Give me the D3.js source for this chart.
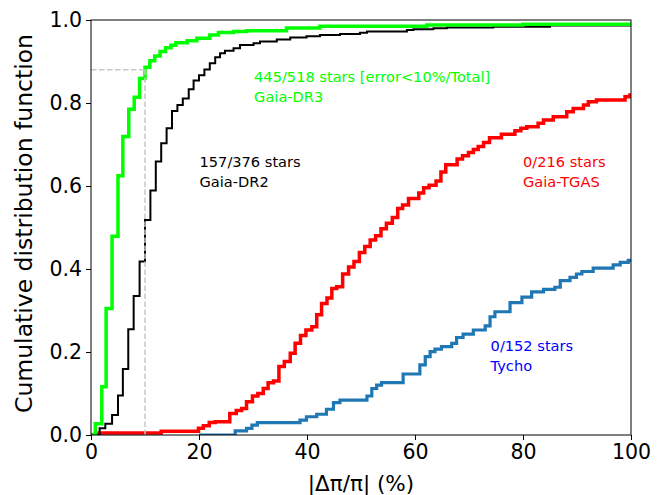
<!DOCTYPE html>
<html>
<head>
<meta charset="utf-8">
<script src="https://cdn.jsdelivr.net/npm/d3@7"></script>
<style>
  html, body { margin: 0; padding: 0; background: #fff; }
  svg { display: block; font-family: "DejaVu Sans", sans-serif; }
</style>
</head>
<body>
<svg id="chart" width="665" height="495"></svg>
<script>
// ---- data ----
const xTicks = [0, 20, 40, 60, 80, 100];
const yTicks = [0.0, 0.2, 0.4, 0.6, 0.8, 1.0];

// Gaia-DR3 cumulative distribution (step rises at x)
const dr3Start = 0;
const dr3X = [0.8, 2.0, 2.8, 3.9, 5.0, 5.9, 7.0, 8.0, 9.0, 10.0, 10.9, 11.8, 12.8, 13.8, 14.8, 15.7, 17.8, 19.6, 22.0, 23.6, 26.4, 28.8, 36.2, 42.4, 62.2, 80.0];
const dr3Y = [0.027, 0.116, 0.305, 0.479, 0.625, 0.719, 0.785, 0.814, 0.859, 0.886, 0.902, 0.913, 0.924, 0.933, 0.939, 0.945, 0.950, 0.956, 0.964, 0.970, 0.972, 0.974, 0.981, 0.985, 0.988, 0.990];

// Gaia-DR2
const dr2Start = 0;
const dr2X = [1.6, 2.65, 3.9, 5.0, 5.9, 6.9, 7.9, 9.0, 10.0, 11.0, 12.0, 13.0, 14.0, 15.0, 16.0, 17.0, 18.1, 19.0, 20.0, 21.0, 22.0, 23.0, 23.9, 24.8, 26.4, 27.6, 30.1, 31.3, 34.4, 36.9, 39.9, 42.4, 46.1, 49.8, 51.1, 58.5, 59.7, 63.4, 65.9, 74.5, 85.0];
const dr2Y = [0.016, 0.027, 0.048, 0.095, 0.159, 0.255, 0.335, 0.418, 0.518, 0.589, 0.659, 0.703, 0.739, 0.781, 0.795, 0.811, 0.833, 0.854, 0.867, 0.881, 0.896, 0.910, 0.920, 0.926, 0.932, 0.940, 0.944, 0.948, 0.953, 0.958, 0.961, 0.964, 0.966, 0.969, 0.972, 0.976, 0.978, 0.980, 0.982, 0.984, 0.987];

// Gaia-TGAS
const tgasStart = 0;
const tgasX = [1.5, 13.0, 19.9, 20.8, 21.9, 23.0, 25.7, 26.9, 27.9, 28.8, 29.9, 30.9, 31.9, 32.8, 33.8, 34.8, 35.8, 36.9, 37.8, 38.8, 39.8, 40.9, 41.8, 42.7, 43.7, 44.6, 45.5, 46.6, 47.7, 48.7, 49.7, 50.7, 51.7, 52.7, 53.7, 54.7, 55.8, 56.8, 57.7, 58.8, 60.7, 61.6, 62.6, 63.9, 64.8, 65.7, 67.8, 68.8, 69.9, 70.8, 71.7, 72.7, 73.8, 76.0, 78.5, 79.6, 80.7, 82.8, 83.8, 85.6, 88.1, 89.3, 91.2, 92.1, 93.6, 98.9, 99.8];
const tgasY = [0.005, 0.009, 0.016, 0.022, 0.030, 0.032, 0.052, 0.059, 0.064, 0.080, 0.094, 0.100, 0.112, 0.126, 0.130, 0.165, 0.177, 0.197, 0.221, 0.240, 0.253, 0.261, 0.290, 0.317, 0.330, 0.353, 0.357, 0.388, 0.405, 0.418, 0.440, 0.454, 0.470, 0.480, 0.497, 0.510, 0.524, 0.546, 0.554, 0.570, 0.583, 0.596, 0.602, 0.612, 0.634, 0.651, 0.665, 0.673, 0.681, 0.688, 0.695, 0.705, 0.716, 0.725, 0.733, 0.739, 0.743, 0.751, 0.759, 0.767, 0.779, 0.787, 0.795, 0.803, 0.807, 0.815, 0.819];

// Tycho
const tychoStart = 20;
const tychoX = [26.7, 28.8, 29.8, 30.8, 38.7, 39.9, 41.8, 43.6, 44.9, 46.1, 51.1, 52.0, 52.9, 53.8, 57.8, 60.9, 61.9, 62.8, 63.7, 64.9, 66.8, 67.7, 68.9, 70.8, 73.0, 73.9, 74.8, 77.6, 79.8, 81.6, 83.8, 85.9, 86.9, 88.7, 89.9, 90.9, 93.0, 96.7, 98.0, 99.5];
const tychoY = [0.010, 0.016, 0.024, 0.030, 0.036, 0.044, 0.050, 0.062, 0.078, 0.084, 0.094, 0.112, 0.120, 0.126, 0.147, 0.169, 0.189, 0.201, 0.207, 0.213, 0.221, 0.235, 0.243, 0.253, 0.263, 0.285, 0.297, 0.319, 0.332, 0.345, 0.351, 0.356, 0.372, 0.380, 0.388, 0.394, 0.402, 0.410, 0.416, 0.421];

// threshold guide (10% error)
const guideX = 10;
const guideY = 0.88;

// annotations
const labels = [
  { x: 30.2, y: 0.85, lines: ["445/518 stars [error<10%/Total]", "Gaia-DR3"], color: "#00ff00" },
  { x: 20.1, y: 0.645, lines: ["157/376 stars", "Gaia-DR2"], color: "#000000" },
  { x: 80.0, y: 0.645, lines: ["0/216 stars", "Gaia-TGAS"], color: "#ff0000" },
  { x: 74.0, y: 0.203, lines: ["0/152 stars", "Tycho"], color: "#0000ff" }
];

// ---- drawing ----
const svg = d3.select("#chart");
const margin = { left: 91, right: 34, top: 20, bottom: 60 };
const W = 665, H = 495;
const x = d3.scaleLinear().domain([0, 100]).range([margin.left, W - margin.right]);
const y = d3.scaleLinear().domain([0, 1]).range([H - margin.bottom, margin.top]);

svg.append("defs").append("clipPath").attr("id", "clip")
  .append("rect")
  .attr("x", x(0)).attr("y", y(1))
  .attr("width", x(100) - x(0)).attr("height", y(0) - y(1));

const plot = svg.append("g").attr("clip-path", "url(#clip)");

function stepPoints(start, xs, ys) {
  const pts = [[start, 0]];
  xs.forEach((xv, i) => pts.push([xv, ys[i]]));
  pts.push([105, ys[ys.length - 1]]);
  return pts;
}
const line = d3.line().x(d => x(d[0])).y(d => y(d[1])).curve(d3.curveStepAfter);

const series = [
  { start: tychoStart, xs: tychoX, ys: tychoY, color: "#1f77b4", w: 3.2 },
  { start: tgasStart, xs: tgasX, ys: tgasY, color: "#ff0000", w: 3.5 },
  { start: dr2Start, xs: dr2X, ys: dr2Y, color: "#000000", w: 2.0 },
  { start: dr3Start, xs: dr3X, ys: dr3Y, color: "#00ff00", w: 3.5 }
];
series.forEach(s => {
  plot.append("path")
    .attr("d", line(stepPoints(s.start, s.xs, s.ys)))
    .attr("fill", "none")
    .attr("stroke", s.color)
    .attr("stroke-width", s.w)
    .attr("stroke-linejoin", "miter");
});

// dashed guides
plot.append("line")
  .attr("x1", x(0)).attr("x2", x(guideX)).attr("y1", y(guideY)).attr("y2", y(guideY))
  .attr("stroke", "#c8c8c8").attr("stroke-width", 1.5).attr("stroke-dasharray", "5.5,2.5");
plot.append("line")
  .attr("x1", x(guideX)).attr("x2", x(guideX)).attr("y1", y(0)).attr("y2", y(guideY))
  .attr("stroke", "#c8c8c8").attr("stroke-width", 1.5).attr("stroke-dasharray", "5.5,2.5");

// axes
const xAxis = svg.append("g").attr("transform", `translate(0,${y(0)})`)
  .call(d3.axisBottom(x).tickValues(xTicks).tickFormat(d3.format("d")).tickSizeOuter(0).tickSize(5).tickPadding(4));
const yAxis = svg.append("g").attr("transform", `translate(${x(0)},0)`)
  .call(d3.axisLeft(y).tickValues(yTicks).tickFormat(d3.format(".1f")).tickSizeOuter(0).tickSize(5).tickPadding(4));
[xAxis, yAxis].forEach(a => {
  a.select(".domain").remove();
  a.selectAll("text").attr("font-size", 20.5).attr("font-family", "DejaVu Sans").attr("fill", "#000");
  a.selectAll("line").attr("stroke", "#000").attr("stroke-width", 1);
});

// frame
svg.append("rect")
  .attr("x", x(0)).attr("y", y(1))
  .attr("width", x(100) - x(0)).attr("height", y(0) - y(1))
  .attr("fill", "none").attr("stroke", "#000").attr("stroke-width", 1);

// annotations
labels.forEach(l => {
  const t = svg.append("text")
    .attr("x", x(l.x)).attr("y", y(l.y))
    .attr("fill", l.color).attr("font-size", 14.6);
  l.lines.forEach((s, i) => {
    t.append("tspan").attr("x", x(l.x)).attr("dy", i === 0 ? 0 : 20).text(s);
  });
});

// axis titles
svg.append("text")
  .attr("x", (x(0) + x(100)) / 2).attr("y", 491)
  .attr("text-anchor", "middle").attr("font-size", 21.5)
  .text("|Δπ/π| (%)");
svg.append("text")
  .attr("transform", `translate(32,${(y(0) + y(1)) / 2 - 4}) rotate(-90)`)
  .attr("text-anchor", "middle").attr("font-size", 23.5)
  .text("Cumulative distribution function");
</script>
</body>
</html>
